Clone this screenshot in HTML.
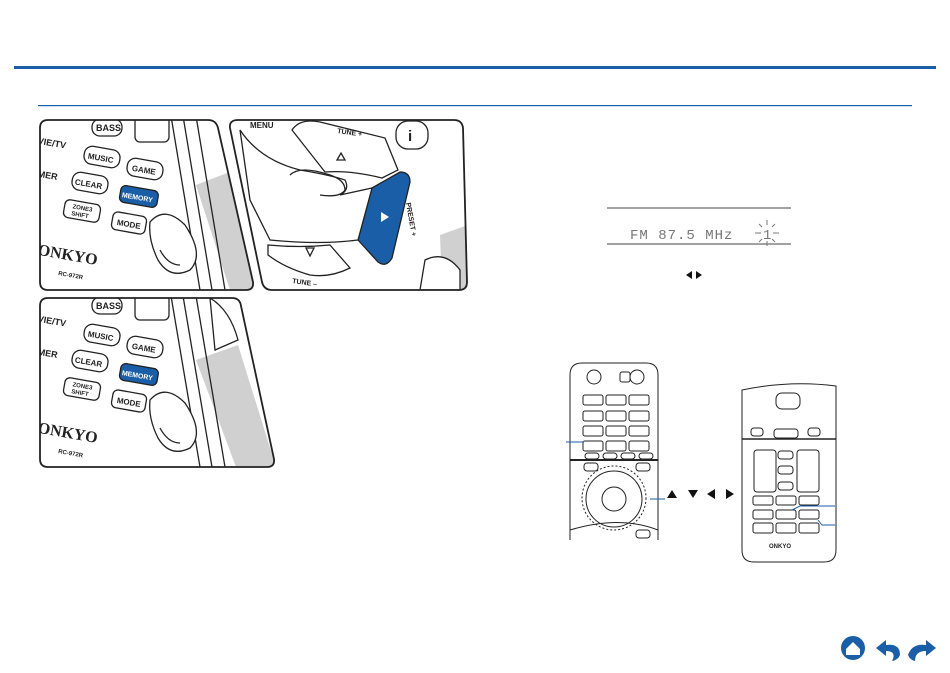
<!DOCTYPE html>
<html><head><meta charset="utf-8"><style>
html,body{margin:0;padding:0;background:#fff;width:950px;height:673px;overflow:hidden}
svg{display:block}
text{font-family:"Liberation Sans",sans-serif}
</style></head><body>
<svg width="950" height="673" viewBox="0 0 950 673" xmlns="http://www.w3.org/2000/svg">
<defs>
<clipPath id="c1"><path d="M48 120 H208 Q216 120 218 128 L253 282 Q254 290 246 290 H48 Q40 290 40 282 V128 Q40 120 48 120Z"/></clipPath>
<clipPath id="c2"><path d="M238 120 H454 Q462 120 463 128 L467 282 Q467 290 459 290 H272 Q264 290 262 282 L230 128 Q229 120 238 120Z"/></clipPath>
<clipPath id="c3"><path d="M48 298 H232 Q240 298 241 306 L274 459 Q275 467 267 467 H48 Q40 467 40 459 V306 Q40 298 48 298Z"/></clipPath>
</defs>
<rect x="14" y="66" width="922" height="3" fill="#1a5ea8"/>
<rect x="38" y="105" width="874" height="1.2" fill="#1a5ea8"/>

<!-- panel 1 -->
<g clip-path="url(#c1)" stroke="#222" fill="none" stroke-width="1.3">
<path d="M196 185 L240 168 L256 290 L230 290Z" fill="#d0d0d0" stroke="none"/>
<path d="M170 110 L200 290 M182 110 L212 290 M195 110 L225 290"/>
<rect x="92" y="119" width="30" height="17" rx="8"/><text x="96" y="131" font-size="9" font-weight="bold" fill="#222" stroke="none">BASS</text>
<rect x="135" y="112" width="34" height="30" rx="5"/>
<rect x="84" y="148" width="36" height="18" rx="8" transform="rotate(10 102 157)"/><text x="88" y="161" font-size="8" font-weight="bold" fill="#222" stroke="none" transform="rotate(10 102 157)">MUSIC</text>
<rect x="127" y="160" width="36" height="18" rx="8" transform="rotate(10 145 169)"/><text x="132" y="173" font-size="8" font-weight="bold" fill="#222" stroke="none" transform="rotate(10 145 169)">GAME</text>
<rect x="72" y="174" width="36" height="18" rx="8" transform="rotate(10 90 183)"/><text x="75" y="187" font-size="8" font-weight="bold" fill="#222" stroke="none" transform="rotate(10 90 183)">CLEAR</text>
<rect x="120" y="188" width="38" height="17" rx="5" fill="#1a5ea8" transform="rotate(10 139 196)"/><text x="122" y="200" font-size="7" font-weight="bold" fill="#fff" stroke="none" transform="rotate(10 139 196)">MEMORY</text>
<rect x="64" y="202" width="36" height="18" rx="5" transform="rotate(10 82 211)"/><text x="72" y="210" font-size="6" font-weight="bold" fill="#222" stroke="none" transform="rotate(10 82 211)">ZONE3</text><text x="72" y="217" font-size="6" font-weight="bold" fill="#222" stroke="none" transform="rotate(10 82 211)">SHIFT</text>
<rect x="112" y="214" width="34" height="18" rx="5" transform="rotate(10 129 223)"/><text x="117" y="227" font-size="8" font-weight="bold" fill="#222" stroke="none" transform="rotate(10 129 223)">MODE</text>
<text x="38" y="144" font-size="9" font-weight="bold" fill="#222" stroke="none" transform="rotate(10 40 140)">VIE/TV</text>
<text x="38" y="177" font-size="9" font-weight="bold" fill="#222" stroke="none" transform="rotate(10 40 173)">MER</text>
<text x="38" y="255" font-size="16" font-weight="bold" fill="#222" stroke="none" font-family="Liberation Serif" transform="rotate(10 40 250)" style="font-family:'Liberation Serif',serif">ONKYO</text>
<text x="58" y="275" font-size="6" font-weight="bold" fill="#222" stroke="none" transform="rotate(10 58 275)">RC-972R</text>
<path d="M150 222 Q165 205 185 225 Q205 255 190 270 Q170 280 158 260 Q148 240 150 222Z" fill="#fff"/>
<path d="M160 250 Q168 265 180 265"/>
</g>
<path d="M48 120 H208 Q216 120 218 128 L253 282 Q254 290 246 290 H48 Q40 290 40 282 V128 Q40 120 48 120Z" fill="none" stroke="#222" stroke-width="1.8"/>

<!-- panel 2 -->
<g clip-path="url(#c2)" stroke="#222" fill="none" stroke-width="1.3">
<path d="M440 235 L468 225 L468 290 L442 290Z" fill="#d0d0d0" stroke="none"/>
<path d="M292 130 Q300 118 320 122 L385 138 L398 170 L382 178 Q350 170 325 172Z" fill="#fff"/>
<text x="337" y="133" font-size="7" font-weight="bold" fill="#222" stroke="none" transform="rotate(8 337 133)">TUNE +</text>
<path d="M337 160 L341 153 L345 160Z"/>
<text x="250" y="128" font-size="8" font-weight="bold" fill="#222" stroke="none">MENU</text>
<rect x="396" y="121" width="32" height="28" rx="12"/><text x="408" y="141" font-size="15" font-weight="bold" fill="#222" stroke="none">i</text>
<path d="M372 188 L400 172 Q410 172 410 182 L392 258 Q386 268 378 262 L358 240Z" fill="#1a5ea8"/>
<path d="M381 212 L389 217 L381 222Z" fill="#fff" stroke="none"/>
<path d="M240 130 Q260 160 300 170 Q330 175 345 180 Q350 190 340 195 L372 188 L358 240 Q320 245 270 240 L250 200Z" fill="#fff"/>
<path d="M290 175 Q300 165 330 175 Q345 180 345 190 Q340 198 320 195"/>
<path d="M268 245 Q300 248 330 245 L350 268 Q330 278 310 275 Q285 268 268 255Z" fill="#fff"/>
<path d="M306 248 L310 256 L314 248Z"/>
<text x="292" y="283" font-size="7" font-weight="bold" fill="#222" stroke="none" transform="rotate(8 292 283)">TUNE –</text>
<text x="406" y="203" font-size="7" font-weight="bold" fill="#222" stroke="none" transform="rotate(80 406 203)">PRESET +</text>
<path d="M425 260 Q445 250 460 270 L460 290 H420Z" fill="#fff"/>
</g>
<path d="M238 120 H454 Q462 120 463 128 L467 282 Q467 290 459 290 H272 Q264 290 262 282 L230 128 Q229 120 238 120Z" fill="none" stroke="#222" stroke-width="1.8"/>

<!-- panel 3 -->
<g clip-path="url(#c3)" stroke="#222" fill="none" stroke-width="1.3">
<path d="M196 360 L238 345 L276 467 L236 467Z" fill="#d0d0d0" stroke="none"/>
<path d="M170 290 L200 467 M182 290 L212 467 M195 290 L225 467"/>
<path d="M210 298 Q230 310 238 340 L215 350Z" fill="#fff"/>
<rect x="92" y="297" width="30" height="17" rx="8"/><text x="96" y="309" font-size="9" font-weight="bold" fill="#222" stroke="none">BASS</text>
<rect x="135" y="290" width="34" height="30" rx="5"/>
<rect x="84" y="326" width="36" height="18" rx="8" transform="rotate(10 102 335)"/><text x="88" y="339" font-size="8" font-weight="bold" fill="#222" stroke="none" transform="rotate(10 102 335)">MUSIC</text>
<rect x="127" y="338" width="36" height="18" rx="8" transform="rotate(10 145 347)"/><text x="132" y="351" font-size="8" font-weight="bold" fill="#222" stroke="none" transform="rotate(10 145 347)">GAME</text>
<rect x="72" y="352" width="36" height="18" rx="8" transform="rotate(10 90 361)"/><text x="75" y="365" font-size="8" font-weight="bold" fill="#222" stroke="none" transform="rotate(10 90 361)">CLEAR</text>
<rect x="120" y="366" width="38" height="17" rx="5" fill="#1a5ea8" transform="rotate(10 139 374)"/><text x="122" y="378" font-size="7" font-weight="bold" fill="#fff" stroke="none" transform="rotate(10 139 374)">MEMORY</text>
<rect x="64" y="380" width="36" height="18" rx="5" transform="rotate(10 82 389)"/><text x="72" y="388" font-size="6" font-weight="bold" fill="#222" stroke="none" transform="rotate(10 82 389)">ZONE3</text><text x="72" y="395" font-size="6" font-weight="bold" fill="#222" stroke="none" transform="rotate(10 82 389)">SHIFT</text>
<rect x="112" y="392" width="34" height="18" rx="5" transform="rotate(10 129 401)"/><text x="117" y="405" font-size="8" font-weight="bold" fill="#222" stroke="none" transform="rotate(10 129 401)">MODE</text>
<text x="38" y="322" font-size="9" font-weight="bold" fill="#222" stroke="none" transform="rotate(10 40 318)">VIE/TV</text>
<text x="38" y="355" font-size="9" font-weight="bold" fill="#222" stroke="none" transform="rotate(10 40 351)">MER</text>
<text x="38" y="433" font-size="16" font-weight="bold" fill="#222" stroke="none" transform="rotate(10 40 428)" style="font-family:'Liberation Serif',serif">ONKYO</text>
<text x="58" y="453" font-size="6" font-weight="bold" fill="#222" stroke="none" transform="rotate(10 58 453)">RC-972R</text>
<path d="M150 400 Q165 383 185 403 Q205 433 190 448 Q170 458 158 438 Q148 418 150 400Z" fill="#fff"/>
<path d="M160 428 Q168 443 180 443"/>
</g>
<path d="M48 298 H232 Q240 298 241 306 L274 459 Q275 467 267 467 H48 Q40 467 40 459 V306 Q40 298 48 298Z" fill="none" stroke="#222" stroke-width="1.8"/>

<!-- display -->
<line x1="607" y1="208" x2="791" y2="208" stroke="#444" stroke-width="1"/>
<line x1="607" y1="244" x2="791" y2="244" stroke="#444" stroke-width="1"/>
<text x="630" y="239" font-size="14" fill="#777" letter-spacing="1" style="font-family:'Liberation Mono',monospace">FM 87.5 MHz</text>
<text x="763" y="239" font-size="14" fill="#777" style="font-family:'Liberation Mono',monospace">1</text>
<g stroke="#777" stroke-width="1"><line x1="755" y1="233" x2="761" y2="233"/><line x1="773" y1="233" x2="779" y2="233"/><line x1="767" y1="220" x2="767" y2="225"/><line x1="767" y1="241" x2="767" y2="246"/><line x1="759" y1="224" x2="762" y2="227"/><line x1="775" y1="224" x2="772" y2="227"/><line x1="759" y1="242" x2="762" y2="239"/><line x1="775" y1="242" x2="772" y2="239"/></g>
<path d="M686 275 L692 271 L692 279Z M696 271 L702 275 L696 279Z" fill="#111"/>

<!-- left remote -->
<g stroke="#222" fill="none" stroke-width="1">
<path d="M570 540 V375 Q570 363 582 363 H646 Q658 363 658 375 V540"/>
<circle cx="594" cy="377" r="7"/><circle cx="637" cy="377" r="7"/><rect x="620" y="372" width="10" height="10" rx="2"/>
<rect x="583" y="395" width="20" height="10" rx="2"/><rect x="606" y="395" width="20" height="10" rx="2"/><rect x="629" y="395" width="20" height="10" rx="2"/>
<rect x="583" y="411" width="20" height="10" rx="2"/><rect x="606" y="411" width="20" height="10" rx="2"/><rect x="629" y="411" width="20" height="10" rx="2"/>
<rect x="583" y="426" width="20" height="10" rx="2"/><rect x="606" y="426" width="20" height="10" rx="2"/><rect x="629" y="426" width="20" height="10" rx="2"/>
<rect x="583" y="441" width="20" height="10" rx="2"/><rect x="606" y="441" width="20" height="10" rx="2"/><rect x="629" y="441" width="20" height="10" rx="2"/>
<rect x="585" y="453" width="14" height="6" rx="3"/><rect x="603" y="453" width="14" height="6" rx="3"/><rect x="621" y="453" width="14" height="6" rx="3"/><rect x="639" y="453" width="14" height="6" rx="3"/>
<line x1="570" y1="460" x2="658" y2="460" stroke-width="2"/>
<rect x="584" y="463" width="14" height="8" rx="3"/><rect x="636" y="463" width="14" height="8" rx="3"/>
<circle cx="614" cy="498" r="32" stroke-dasharray="2 2"/>
<circle cx="614" cy="499" r="28"/>
<circle cx="614" cy="499" r="12"/>
<path d="M570 530 Q620 515 658 530"/>
<rect x="636" y="530" width="14" height="8" rx="3"/>
</g>
<line x1="566" y1="442" x2="584" y2="442" stroke="#1a5ea8"/>
<line x1="650" y1="499" x2="665" y2="499" stroke="#1a5ea8"/>
<path d="M667 498 L672 490 L677 498Z M688 490 L698 490 L693 498Z M707 494 L715 489 L715 499Z M726 489 L734 494 L726 499Z" fill="#111"/>

<!-- right remote -->
<g stroke="#222" fill="none" stroke-width="1">
<path d="M742 390 Q790 380 836 386 V550 Q836 562 824 562 H754 Q742 562 742 550Z"/>
<rect x="776" y="393" width="24" height="16" rx="6"/>
<line x1="742" y1="439" x2="836" y2="439" stroke-width="1.5"/>
<rect x="751" y="428" width="12" height="8" rx="3"/><rect x="774" y="429" width="24" height="9" rx="3"/><rect x="808" y="428" width="12" height="8" rx="3"/>
<rect x="754" y="450" width="22" height="42" rx="3"/><rect x="797" y="450" width="22" height="42" rx="3"/>
<rect x="778" y="451" width="15" height="8" rx="3"/><rect x="778" y="466" width="15" height="8" rx="3"/><rect x="778" y="482" width="15" height="8" rx="3"/>
<rect x="753" y="496" width="20" height="9" rx="2"/><rect x="776" y="496" width="20" height="9" rx="2"/><rect x="799" y="496" width="20" height="9" rx="2"/>
<rect x="753" y="510" width="20" height="9" rx="2"/><rect x="776" y="510" width="20" height="9" rx="2"/><rect x="799" y="510" width="20" height="9" rx="2"/>
<rect x="753" y="523" width="20" height="10" rx="2"/><rect x="776" y="523" width="20" height="10" rx="2"/><rect x="799" y="523" width="20" height="10" rx="2"/>
</g>
<text x="769" y="548" font-size="6" font-weight="bold" fill="#222">ONKYO</text>
<path d="M792 510 L800 506 H835" stroke="#1a5ea8" fill="none"/>
<path d="M818 520 L822 525 H835" stroke="#1a5ea8" fill="none"/>

<!-- nav icons -->
<circle cx="853" cy="648" r="12" fill="#1a5ea8"/>
<path d="M846 649 L853 642 L860 649 V655 H846Z" fill="#fff"/>
<path d="M876 648 L886 640 L886 645 Q900 643 900 655 Q898 660 892 661 Q897 651 886 651 L886 656Z" fill="#1a5ea8"/>
<path d="M936 648 L926 640 L926 645 Q912 643 908 655 Q910 660 915 661 Q915 651 926 651 L926 656Z" fill="#1a5ea8"/>
</svg>
</body></html>
